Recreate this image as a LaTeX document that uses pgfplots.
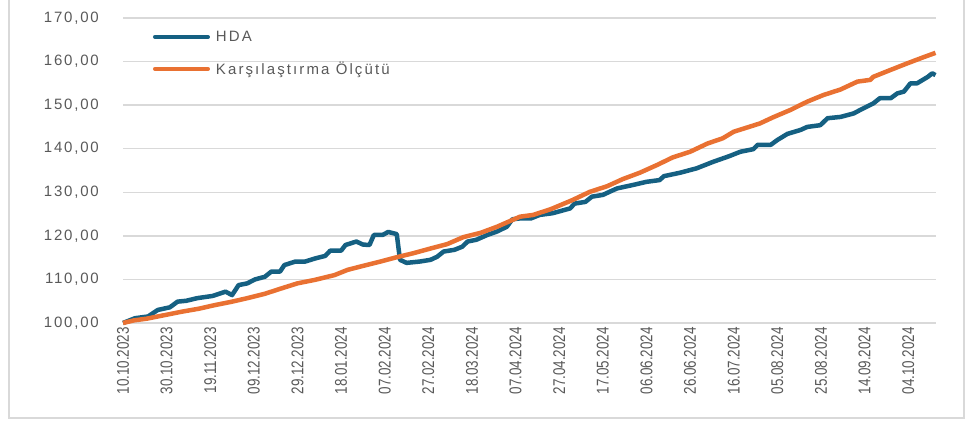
\documentclass[border=0pt]{standalone}
\usepackage{fontspec}
\setmainfont{Liberation Sans}
\newfontfamily\lsfont[LetterSpace=12]{Liberation Sans}
\newfontfamily\lgfont[LetterSpace=14]{Liberation Sans}
\newfontfamily\narrowfont[FakeStretch=0.79]{Liberation Sans}
\usepackage{pgfplots}
\pgfplotsset{compat=1.18}
\definecolor{hda}{HTML}{156082}
\definecolor{kar}{HTML}{E97132}
\definecolor{gridc}{HTML}{D9D9D9}
\definecolor{txt}{HTML}{595959}
\definecolor{framec}{HTML}{D9D9D9}

\pgfplotstableread{
d v
0 100
3 100.6
5.5 101.1
11.5 101.5
16 103
21.5 103.6
25 104.9
29 105.1
34 105.7
41 106.2
47 107.2
50 106.4
53 108.7
57 109.1
60.5 110
65 110.6
68 111.8
72 111.8
74 113.3
79 114.1
83.5 114.1
88 114.8
92.7 115.4
95 116.6
100 116.6
102 117.9
107 118.7
110 118.0
113 117.9
115 120.2
119 120.2
121.6 120.9
125.5 120.4
127 114.5
130 113.8
136 114.1
141 114.5
144 115.2
147 116.4
152 116.8
155.5 117.5
158 118.7
162 119.1
167 120.2
171.5 121
176 122.1
178.5 123.8
182 124
187 124
191 124.8
197 125.2
205 126.3
207 127.4
212 127.8
215 129
220 129.4
223 130.1
226.6 130.9
234 131.7
240 132.4
246 132.8
248 133.7
255.5 134.5
263 135.5
270.6 137
278 138.3
283 139.3
289 139.9
291 140.9
297 140.9
300 142
304.6 143.4
310.6 144.3
313.7 145
319.7 145.4
323 147
329 147.3
335 148.1
338 148.9
344 150.4
347 151.6
352 151.6
355 152.7
358 153.1
361 155
364 155
369 156.5
371 157.3
372.5 156.9
}\hda

\pgfplotstableread{
d v
0 100
5 100.6
11 101
20 101.9
27 102.6
35 103.3
42 104.1
50 104.9
57 105.7
65 106.7
73 108
80 109.1
88 109.9
97 111
103 112.2
110 113.1
118 114.1
125.5 115.1
133 116
141 117.1
148.6 118.1
156 119.7
164 120.7
171.5 122.1
182 124.4
188 124.8
196 126.1
206 128.2
214 130.1
222 131.4
229 133
237 134.5
245 136.3
252 138
260 139.3
268 141.2
275 142.4
280 143.9
287.6 145.1
292 145.8
298 147.2
306 148.9
313.7 150.8
321 152.3
329 153.6
336.7 155.4
342.6 155.8
344 156.5
352 158.1
359.6 159.6
367 161
372.5 162
}\kar

\begin{document}
\begin{tikzpicture}
\begin{axis}[
  at={(123bp,100bp)}, anchor=south west,
  scale only axis, width=812.5bp, height=305bp,
  xmin=0, xmax=372.5, ymin=100, ymax=170,
  clip=false,
  axis line style={draw=none},
  ymajorgrids, grid style={gridc, line width=1.5bp},
  ytick={100,110,...,170},
  yticklabels={{100,00},{110,00},{120,00},{130,00},{140,00},{150,00},{160,00},{170,00}},
  yticklabel style={font=\lsfont\fontsize{15bp}{18bp}\selectfont, text=txt, inner sep=0pt, xshift=-24bp},
  xtick={0,20,...,360},
  xticklabels={10.10.2023,30.10.2023,19.11.2023,09.12.2023,29.12.2023,18.01.2024,07.02.2024,27.02.2024,18.03.2024,07.04.2024,27.04.2024,17.05.2024,06.06.2024,26.06.2024,16.07.2024,05.08.2024,25.08.2024,14.09.2024,04.10.2024},
  xticklabel style={font=\narrowfont\fontsize{17bp}{20bp}\selectfont, text=txt, yshift=-4bp, rotate=90, anchor=east, inner sep=0pt},
  tick style={draw=none},
  legend style={at={(0.0369,0.8836)}, anchor=west, draw=none, fill=none, inner sep=0pt, outer sep=0pt, row sep=19bp, column sep=6bp, nodes={inner sep=0pt, text=txt, font=\lgfont\fontsize{15bp}{18bp}\selectfont}},
  legend cell align=left,
  legend image code/.code={\draw[#1, line width=4bp, line cap=round] (2bp,0bp) -- (55bp,0bp);},
]
\addplot[hda, line width=4.5bp, line join=round] table[x=d, y=v] {\hda};
\addlegendentry{HDA}
\addplot[kar, line width=4.5bp, line join=round] table[x=d, y=v] {\kar};
\addlegendentry{Karşılaştırma Ölçütü}
\end{axis}
\draw[framec, line width=1.5bp] (9bp,430bp) -- (9bp,5bp) -- (964bp,5bp) -- (964bp,430bp);
\pgfresetboundingbox
\useasboundingbox (0,0) rectangle (970bp,423bp);
\end{tikzpicture}
\end{document}
